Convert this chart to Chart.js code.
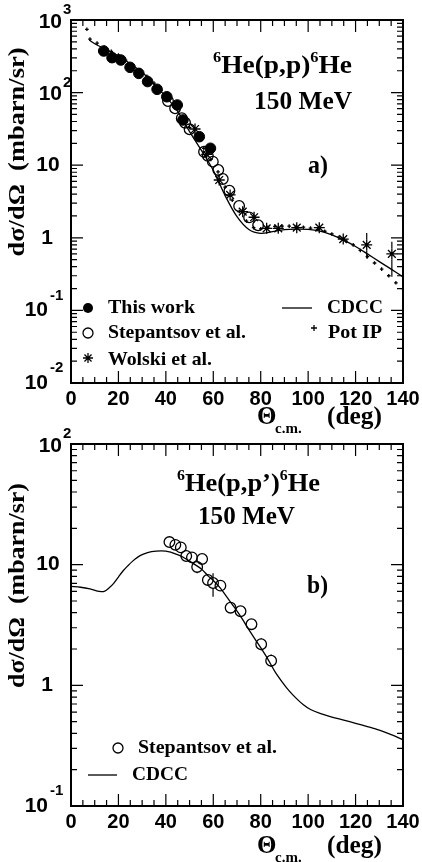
<!DOCTYPE html>
<html>
<head>
<meta charset="utf-8">
<script src="https://cdn.jsdelivr.net/npm/chart.js@4.4.0/dist/chart.umd.min.js"></script>
<style>
  html, body { margin: 0; padding: 0; background: #fff; }
  #wrap { position: relative; width: 422px; height: 862px; overflow: hidden; }
  canvas { position: absolute; left: 0; }
  #chartA { top: 0; }
  #chartB { top: 421px; }
</style>
</head>
<body>
<div id="wrap">
  <canvas id="chartA" width="422" height="445"></canvas>
  <canvas id="chartB" width="422" height="441"></canvas>
</div>
<script>
// ---- panel a) 6He(p,p)6He elastic ----
const aThisX = [13.8, 17.3, 21.0, 24.9, 28.6, 32.3, 36.3, 40.4, 44.8, 47.2, 54.1, 58.8];
const aThisY = [374, 303, 281, 223, 184, 142, 111, 87.7, 67.5, 42, 24.7, 17.1];

const aStepX = [40.9, 43.9, 46.7, 48.1, 50.0, 56.1, 57.7, 59.8, 62.1, 64.0, 66.8, 70.9, 75.1, 78.9];
const aStepY = [76.6, 60.8, 44.3, 38.5, 31.2, 15.3, 13.5, 11.2, 8.6, 6.46, 4.45, 2.74, 1.91, 1.49];

const aWolskiX = [52.3, 57.2, 62.5, 67.1, 72.4, 77.2, 82.5, 87.4, 95.2, 104.7, 114.8, 124.7, 135.3];
const aWolskiY = [31.5, 14.1, 6.25, 3.89, 2.29, 1.92, 1.35, 1.35, 1.38, 1.38, 0.96, 0.80, 0.60];
const aWolskiLo = [null, null, null, null, null, null, null, null, null, null, null, 0.52, 0.29];
const aWolskiHi = [null, null, null, null, null, null, null, null, null, null, null, 1.16, 0.88];

const aCdccX = [7.7, 10, 15, 20, 25, 30, 35, 40, 45, 50, 55, 60, 65, 70, 75, 80, 85, 90, 95, 100, 105, 110, 115, 120, 125, 130, 135, 140];
const aCdccY = [530, 470, 390, 318, 250, 190, 130, 88, 55, 29, 16, 8.5, 3.8, 1.95, 1.3, 1.15, 1.22, 1.3, 1.32, 1.31, 1.24, 1.1, 0.93, 0.76, 0.6, 0.47, 0.37, 0.29];

const aPotX = [6.7, 8, 11, 14, 17, 20, 23, 26, 29, 32, 35, 38, 41, 44, 47, 50, 53, 56, 59, 62, 65, 68, 71, 74, 77, 80, 83, 86, 89, 92, 95, 98, 101, 104, 107, 110, 113, 116, 119, 122, 125, 128, 131, 134, 137, 140];
const aPotY = [745, 545, 480, 425, 370, 330, 280, 240, 205, 168, 135, 108, 83, 63, 46, 33, 24, 17, 12, 8.1, 5.0, 3.3, 2.3, 1.7, 1.38, 1.33, 1.4, 1.44, 1.45, 1.45, 1.43, 1.4, 1.36, 1.31, 1.23, 1.13, 1.02, 0.9, 0.8, 0.67, 0.55, 0.45, 0.37, 0.3, 0.24, 0.2];

// ---- panel b) 6He(p,p')6He inelastic ----
const bStepX = [41.5, 44.0, 46.3, 48.6, 51.0, 53.2, 55.3, 57.7, 59.9, 63.0, 67.3, 71.5, 76.1, 80.2, 84.4];
const bStepY = [15.4, 14.6, 13.9, 11.8, 11.5, 9.57, 11.15, 7.47, 7.05, 6.70, 4.40, 4.11, 3.21, 2.19, 1.60];
const bStepLo = [14.3, 13.6, 12.9, 10.8, 10.5, 8.5, 10.2, 6.7, 5.43, 6.2, 4.1, 3.8, 3.0, 1.95, 1.42];
const bStepHi = [16.5, 15.7, 15.0, 12.8, 12.5, 10.7, 12.2, 8.3, 8.49, 7.2, 4.7, 4.4, 3.4, 2.45, 1.8];

const bCdccX = [0, 4, 8, 12, 14, 16, 18, 20, 22, 24, 26, 28, 30, 32, 34, 36, 38, 40, 42, 44, 46, 48, 50, 52, 55, 58, 60, 63, 66, 69, 72, 75, 78, 80, 83, 86, 89, 92, 95, 98, 101, 105, 110, 115, 120, 125, 130, 135, 140];
const bCdccY = [6.6, 6.5, 6.3, 6.0, 6.0, 6.4, 7.0, 7.9, 8.9, 9.8, 10.7, 11.5, 12.1, 12.5, 12.8, 12.95, 13.0, 12.95, 12.7, 12.3, 11.9, 11.3, 10.7, 10.1, 9.2, 8.0, 7.4, 6.4, 5.3, 4.4, 3.6, 2.9, 2.35, 2.05, 1.65, 1.3, 1.07, 0.9, 0.78, 0.69, 0.63, 0.585, 0.545, 0.515, 0.485, 0.455, 0.425, 0.39, 0.355];

const xTicks = [0, 20, 40, 60, 80, 100, 120, 140];

const SERIF = '"Liberation Serif", "Times New Roman", serif';
const SANS = '"Liberation Sans", Arial, sans-serif';

function pts(xs, ys) {
  return xs.map((x, i) => ({ x: x, y: ys[i] }));
}

// draw a row of text pieces [text, size, dy] squeezed into [left, right]
function runs(ctx, parts, left, right, cy, family) {
  family = family || SERIF;
  let w = 0;
  const widths = parts.map(p => {
    ctx.font = `bold ${p[1]}px ${family}`;
    const m = ctx.measureText(p[0]).width;
    w += m;
    return m;
  });
  const k = (right - left) / w;
  ctx.save();
  ctx.translate(left, cy);
  ctx.scale(k, 1);
  ctx.textAlign = 'left';
  ctx.textBaseline = 'middle';
  let x = 0;
  parts.forEach((p, i) => {
    ctx.font = `bold ${p[1]}px ${family}`;
    ctx.fillText(p[0], x, p[2]);
    x += widths[i];
  });
  ctx.restore();
}

function label(ctx, text, x, y, size, align, family) {
  ctx.font = `bold ${size}px ${family || SANS}`;
  ctx.textAlign = align;
  ctx.textBaseline = 'middle';
  ctx.fillText(text, x, y);
}

function drawStar(ctx, x, y, r) {
  ctx.beginPath();
  for (let k = 0; k < 4; k++) {
    const a = k * Math.PI / 4;
    ctx.moveTo(x - r * Math.cos(a), y - r * Math.sin(a));
    ctx.lineTo(x + r * Math.cos(a), y + r * Math.sin(a));
  }
  ctx.stroke();
}

const errorBars = {
  id: 'errorBars',
  afterDatasetsDraw(chart) {
    const { ctx, scales: { x, y } } = chart;
    ctx.save();
    ctx.strokeStyle = '#000';
    ctx.lineWidth = 1.2;
    chart.data.datasets.forEach(ds => {
      if (!ds.errLo) return;
      const r = ds.pointRadius;
      ds.data.forEach((p, i) => {
        const lo = ds.errLo[i], hi = ds.errHi[i];
        if (lo == null) return;
        const px = x.getPixelForValue(p.x), py = y.getPixelForValue(p.y);
        const pHi = y.getPixelForValue(hi), pLo = y.getPixelForValue(lo);
        ctx.beginPath();
        if (pHi < py - r) { ctx.moveTo(px, pHi); ctx.lineTo(px, py - r); }
        if (pLo > py + r) { ctx.moveTo(px, py + r); ctx.lineTo(px, pLo); }
        ctx.stroke();
      });
    });
    ctx.restore();
  }
};

function framePlugin(cfg) {
  return {
    id: 'frame',
    afterDraw(chart) {
      const { ctx, chartArea: a, scales: { x, y } } = chart;
      ctx.save();
      ctx.strokeStyle = '#000';
      ctx.fillStyle = '#000';
      ctx.lineWidth = 1.2;
      ctx.beginPath();
      for (let v = x.min; v <= x.max; v += 5) {
        const px = x.getPixelForValue(v);
        const len = v % 20 === 0 ? 12 : 6;
        ctx.moveTo(px, a.bottom); ctx.lineTo(px, a.bottom - len);
        ctx.moveTo(px, a.top); ctx.lineTo(px, a.top + len);
      }
      const e0 = Math.round(Math.log10(y.min)), e1 = Math.round(Math.log10(y.max));
      for (let e = e0; e <= e1; e++) {
        for (let k = 1; k <= 9; k++) {
          const v = k * Math.pow(10, e);
          if (v > y.max * 1.0001) break;
          const py = y.getPixelForValue(v);
          const len = k === 1 ? 12 : 6;
          ctx.moveTo(a.left, py); ctx.lineTo(a.left + len, py);
          ctx.moveTo(a.right, py); ctx.lineTo(a.right - len, py);
        }
      }
      ctx.stroke();
      ctx.lineWidth = 2;
      ctx.strokeRect(a.left, a.top, a.right - a.left, a.bottom - a.top);

      // x tick labels
      xTicks.forEach(v => label(ctx, String(v), x.getPixelForValue(v), cfg.xLabelY, 20, 'center'));
      // y tick labels
      for (let e = e0; e <= e1; e++) {
        const py = y.getPixelForValue(Math.pow(10, e));
        if (e === 0) label(ctx, '1', 47, py, 21, 'center');
        else if (e === 1) label(ctx, '10', 48, py, 21, 'center');
        else if (e > 1) {
          label(ctx, '10', 62, py + 2, 21, 'right');
          label(ctx, String(e), 63, py - 10, 15, 'left');
        } else {
          label(ctx, '10', 48, py, 21, 'right');
          label(ctx, '-' + (-e), 50, py - 15, 15, 'left');
        }
      }
      // axis titles
      ctx.save();
      ctx.translate(18, cfg.yTitleY);
      ctx.rotate(-Math.PI / 2);
      runs(ctx, [['dσ/dΩ  (mbarn/sr)', 23, 0]], -cfg.yTitleLen / 2, cfg.yTitleLen / 2, 0);
      ctx.restore();
      label(ctx, 'Θ', 257, cfg.xTitleY, 25, 'left', SERIF);
      label(ctx, 'c.m.', 275, cfg.xTitleY + 11, 15, 'left', SERIF);
      runs(ctx, [['(deg)', 25, 0]], 327, 382, cfg.xTitleY);

      cfg.extra(ctx);
      ctx.restore();
    }
  };
}

function makeChart(id, datasets, ymin, ymax, cfg) {
  return new Chart(document.getElementById(id), {
    type: 'scatter',
    data: { datasets: datasets },
    options: {
      responsive: false,
      animation: false,
      devicePixelRatio: 1,
      layout: { padding: { top: cfg.top, right: 19, left: 0, bottom: 0 } },
      plugins: { legend: { display: false }, tooltip: { enabled: false } },
      scales: {
        x: {
          type: 'linear', min: 0, max: 140,
          grid: { display: false }, border: { display: false },
          ticks: { display: false },
          afterFit: s => { s.height = cfg.xh; }
        },
        y: {
          type: 'logarithmic', min: ymin, max: ymax,
          grid: { display: false }, border: { display: false },
          ticks: { display: false },
          afterFit: s => { s.width = 71; }
        }
      }
    },
    plugins: [errorBars, framePlugin(cfg)]
  });
}

const black = '#000';

makeChart('chartA', [
  { label: 'This work', data: pts(aThisX, aThisY), pointStyle: 'circle', pointRadius: 5.3,
    backgroundColor: black, borderColor: black, borderWidth: 1 },
  { label: 'Stepantsov et al.', data: pts(aStepX, aStepY), pointStyle: 'circle', pointRadius: 5.3,
    backgroundColor: 'rgba(0,0,0,0)', borderColor: black, borderWidth: 1.3 },
  { label: 'Wolski et al.', data: pts(aWolskiX, aWolskiY), pointStyle: 'star', pointRadius: 5.5,
    backgroundColor: black, borderColor: black, borderWidth: 1.3, errLo: aWolskiLo, errHi: aWolskiHi },
  { label: 'Pot IP', data: pts(aPotX, aPotY), pointStyle: 'cross', pointRadius: 1.8,
    borderColor: black, borderWidth: 1.3 },
  { label: 'CDCC', data: pts(aCdccX, aCdccY), showLine: true, pointRadius: 0,
    borderColor: black, borderWidth: 1.3, tension: 0.3 }
], 0.01, 1000, {
  top: 20, xh: 62, xLabelY: 399.5, xTitleY: 418, yTitleY: 152, yTitleLen: 209,
  extra(ctx) {
    runs(ctx, [['6', 15, -9], ['He(p,p)', 25, 0], ['6', 15, -9], ['He', 25, 0]], 213, 352, 67);
    runs(ctx, [['150 MeV', 25, 0]], 254, 352, 103);
    runs(ctx, [['a)', 25, 0]], 308, 328, 167);
    // legend
    ctx.lineWidth = 1.3;
    ctx.beginPath(); ctx.arc(88, 308, 5, 0, 2 * Math.PI); ctx.fill();
    ctx.beginPath(); ctx.arc(88, 333, 5, 0, 2 * Math.PI); ctx.stroke();
    drawStar(ctx, 88, 358, 5);
    runs(ctx, [['This work', 19, 0]], 108, 195, 308);
    runs(ctx, [['Stepantsov et al.', 19, 0]], 108, 246, 333);
    runs(ctx, [['Wolski et al.', 19, 0]], 108, 212, 360);
    ctx.beginPath(); ctx.moveTo(282, 308); ctx.lineTo(312, 308); ctx.stroke();
    runs(ctx, [['CDCC', 19, 0]], 327, 383, 308);
    ctx.beginPath();
    ctx.moveTo(311, 328); ctx.lineTo(317, 328);
    ctx.moveTo(314, 325); ctx.lineTo(314, 331);
    ctx.stroke();
    runs(ctx, [['Pot IP', 19, 0]], 328, 382, 333);
  }
});

// panel b canvas starts at page y 421, so page y = canvas y + 421
makeChart('chartB', [
  { label: 'Stepantsov et al.', data: pts(bStepX, bStepY), pointStyle: 'circle', pointRadius: 5.3,
    backgroundColor: 'rgba(0,0,0,0)', borderColor: black, borderWidth: 1.3, errLo: bStepLo, errHi: bStepHi },
  { label: 'CDCC', data: pts(bCdccX, bCdccY), showLine: true, pointRadius: 0,
    borderColor: black, borderWidth: 1.3, tension: 0.3 }
], 0.1, 100, {
  top: 23, xh: 56, xLabelY: 401.5, xTitleY: 426, yTitleY: 164.5, yTitleLen: 205,
  extra(ctx) {
    runs(ctx, [['6', 15, -9], ['He(p,p’)', 25, 0], ['6', 15, -9], ['He', 25, 0]], 177, 320, 64);
    runs(ctx, [['150 MeV', 25, 0]], 198, 295, 97);
    runs(ctx, [['b)', 25, 0]], 307, 328, 166);
    ctx.lineWidth = 1.3;
    ctx.beginPath(); ctx.arc(118, 327, 5, 0, 2 * Math.PI); ctx.stroke();
    runs(ctx, [['Stepantsov et al.', 19, 0]], 138, 277, 327);
    ctx.beginPath(); ctx.moveTo(88, 354); ctx.lineTo(117, 354); ctx.stroke();
    runs(ctx, [['CDCC', 19, 0]], 132, 188, 354);
  }
});
</script>
</body>
</html>
